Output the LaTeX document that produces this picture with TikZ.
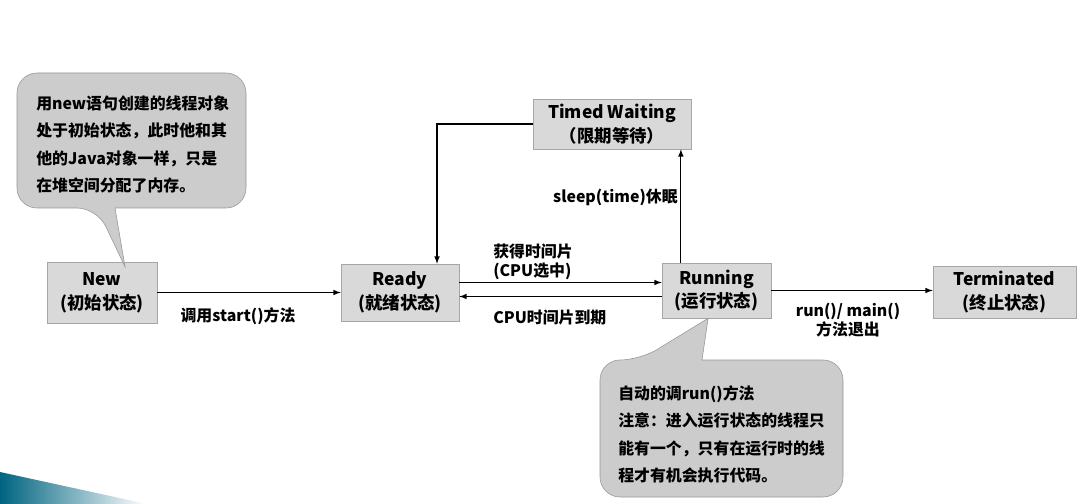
\documentclass[tikz,border=0pt]{standalone}
\usepackage{fontspec}
\setmainfont{Noto Sans CJK SC}
\usetikzlibrary{calc}
\definecolor{boxgray}{RGB}{217,217,217}
\definecolor{boxline}{RGB}{166,166,166}
\definecolor{notegray}{RGB}{204,204,204}
\definecolor{noteline}{RGB}{150,150,150}
\definecolor{tealdark}{RGB}{0,100,128}
\definecolor{tealmid}{RGB}{20,140,172}
\tikzset{
  state/.style={draw=boxline, fill=boxgray, align=center, inner sep=0pt,
    font=\fontsize{12.4}{17}\selectfont\bfseries},
  lbl/.style={inner sep=0pt, font=\fontsize{11.3}{13.5}\selectfont\bfseries},
  notetext/.style={inner sep=0pt, align=left, font=\fontsize{11.3}{19.5}\selectfont\bfseries},
  note/.style={draw=noteline, fill=notegray, rounded corners=0.5cm},
  flow/.style={->, >=latex, line width=0.8pt}
}

\begin{document}
\begin{tikzpicture}[x=0.025cm, y=-0.025cm]
%%%%%%%%%%%%%%%%%%
\useasboundingbox (0,0) rectangle (1089,504);

%Corner wedge
\shade[left color=tealdark, middle color=tealmid, right color=white]
  (0,472) -- (147,504) -- (0,504) -- cycle;

%States
\node[state, minimum width=2.75cm, minimum height=1.525cm] (new) at (102,292.5) {New\\(初始状态)};
\node[state, minimum width=2.95cm, minimum height=1.425cm] (ready) at (400,292.5) {Ready\\(就绪状态)};
\node[state, minimum width=2.725cm, minimum height=1.375cm] (running) at (716.5,290.5) {Running\\(运行状态)};
\node[state, minimum width=3.575cm, minimum height=1.3cm] (terminated) at (1004.5,292) {Terminated\\(终止状态)};
\node[state, minimum width=3.95cm, minimum height=1.25cm] (timed) at (612,124) {Timed Waiting\\（限期等待）};

%Transitions
\draw[flow] (new.east) -- (new.east -| ready.west);
\draw[flow] ([yshift=0.25cm]ready.east) -- ([yshift=0.25cm]ready.east -| running.west);
\draw[flow] ([yshift=-0.15cm]running.west) -- ([yshift=-0.15cm]running.west -| ready.east);
\draw[flow] ([xshift=-0.89cm]running.north) -- ([xshift=-0.89cm]running.north |- timed.south);
\draw[flow] (timed.west) -| ([xshift=0.925cm]ready.north);
\draw[flow] (running.east) -- (running.east -| terminated.west);

%Labels
\node[lbl] at (238,316) {调用start()方法};
\node[lbl, anchor=west, align=left] at (493,262) {获得时间片\\(CPU选中)};
\node[lbl, anchor=west] at (493,318) {CPU时间片到期};
\node[lbl, anchor=east] at (678,197) {sleep(time)休眠};
\node[lbl, align=center] at (848,320.5) {run()/ main()\\方法退出};

%Callouts
\draw[note] (115,208) -- (246,208) -- (246,73) -- (17,73) -- (17,208) -- (97,208)
  [sharp corners] -- ([shift={(0.575cm,-0.125cm)}]new.north) -- cycle;
\node[notetext, anchor=west] at (36,144.5)
  {用new语句创建的线程对象\\处于初始状态，此时他和其\\他的Java对象一样，只是\\在堆空间分配了内存。};

\draw[note] (702,360) -- (843,360) -- (843,497) -- (600,497) -- (600,360) -- (640,360)
  [sharp corners] -- ([xshift=-0.21cm]running.south) -- cycle;
\node[notetext, anchor=west] at (618,434.5)
  {自动的调run()方法\\注意：进入运行状态的线程只\\能有一个，只有在运行时的线\\程才有机会执行代码。};
\end{tikzpicture}
\end{document}
